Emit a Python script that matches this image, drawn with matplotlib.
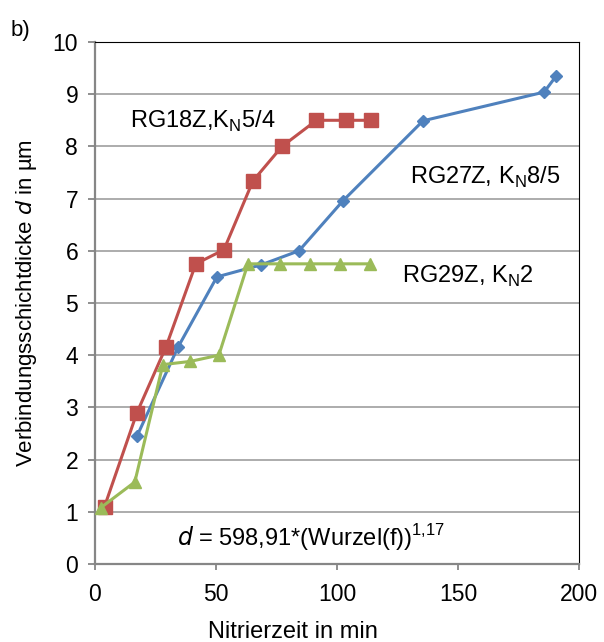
import matplotlib.pyplot as plt

plt.rcParams['font.family'] = ['Liberation Sans', 'DejaVu Sans']

# RG18Z, KN 5/4
t_rg18 = [4, 17.4, 29.3, 41.7, 53.3, 65.3, 77.3, 91.5, 103.5, 114]
d_rg18 = [1.1, 2.9, 4.15, 5.75, 6.02, 7.34, 8.0, 8.5, 8.5, 8.5]

# RG27Z, KN 8/5
t_rg27 = [17.4, 34.3, 50.4, 68.6, 84.3, 102.5, 135.5, 185.5, 190.5]
d_rg27 = [2.45, 4.15, 5.5, 5.73, 6.0, 6.96, 8.49, 9.04, 9.35]

# RG29Z, KN 2
t_rg29 = [2.5, 16.5, 28.1, 39.3, 51.2, 63.2, 76.4, 88.8, 101.2, 113.6]
d_rg29 = [1.08, 1.57, 3.82, 3.88, 4.0, 5.75, 5.75, 5.75, 5.75, 5.75]

x_ticks = [0, 50, 100, 150, 200]
y_ticks = list(range(0, 11))

fig = plt.figure(figsize=(6.04, 6.42), dpi=100)
ax = fig.add_axes([0.157, 0.1215, 0.802, 0.8131])

ax.plot(t_rg27, d_rg27, color='#4F81BD', lw=2.2, marker='D', ms=6.5, zorder=3)
ax.plot(t_rg18, d_rg18, color='#C0504D', lw=2.2, marker='s', ms=9.5, zorder=4)
ax.plot(t_rg29, d_rg29, color='#9BBB59', lw=2.2, marker='^', ms=9, zorder=5)

ax.set_xlim(0, 200)
ax.set_ylim(0, 10)
ax.set_xticks(x_ticks)
ax.set_yticks(y_ticks)
ax.grid(axis='y', color='#a6a6a6', lw=1.3)
ax.set_axisbelow(True)

for s in ['left', 'bottom']:
    ax.spines[s].set_color('#868686')
    ax.spines[s].set_linewidth(1.6)
for s in ['top', 'right']:
    ax.spines[s].set_color('black')
    ax.spines[s].set_linewidth(0.8)

ax.tick_params(axis='both', labelsize=16.5, color='#868686', width=1.3, direction='out')
ax.tick_params(axis='x', length=4.5, pad=9)
ax.tick_params(axis='y', length=5, pad=7)

ax.set_xlabel('Nitrierzeit in min', fontsize=17, va='center')
ax.xaxis.set_label_coords(0.409, -0.13)
ax.set_ylabel('Verbindungsschichtdicke $\\mathit{d}$ in µm', fontsize=16, labelpad=10)

ax.text(14.5, 8.47, 'RG18Z,K$_\\mathregular{N}$5/4', fontsize=17, va='center')
ax.text(130, 7.4, 'RG27Z, K$_\\mathregular{N}$8/5', fontsize=17, va='center')
ax.text(127, 5.5, 'RG29Z, K$_\\mathregular{N}$2', fontsize=17, va='center')
ax.text(34, 0.5, '$\\mathit{d}$ = 598,91*(Wurzel(f))$^\\mathregular{1{,}17}$', fontsize=17, va='center')

fig.text(0.017, 0.953, 'b)', fontsize=16, va='center')

fig.savefig('out.png', dpi=100)
